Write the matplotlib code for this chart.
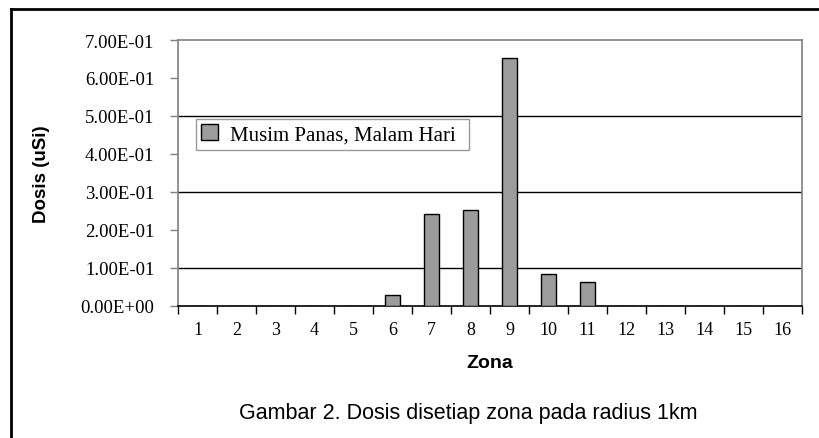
import matplotlib
matplotlib.use("Agg")
import matplotlib.pyplot as plt
import numpy as np

zones = ["1", "2", "3", "4", "5", "6", "7", "8", "9", "10", "11", "12", "13", "14", "15", "16"]
dosis = [0, 0, 0, 0, 0, 0.029, 0.242, 0.253, 0.652, 0.083, 0.062, 0, 0, 0, 0, 0]
yticks = [0.0, 0.1, 0.2, 0.3, 0.4, 0.5, 0.6, 0.7]
ytick_labels = ["0.00E+00", "1.00E-01", "2.00E-01", "3.00E-01", "4.00E-01", "5.00E-01", "6.00E-01", "7.00E-01"]
grid_levels = [0.1, 0.3, 0.5]
series_name = "Musim Panas, Malam Hari"

W, H = 819, 439
fig = plt.figure(figsize=(W / 100, H / 100), dpi=100)

# outer frame (top and left visible)
fig.add_artist(plt.Line2D([11 / W, 1.0], [1 - 10 / H, 1 - 10 / H], color="black", lw=2, transform=fig.transFigure))
fig.add_artist(plt.Line2D([11 / W, 11 / W], [0, 1 - 10 / H], color="black", lw=2, transform=fig.transFigure))

ax = fig.add_axes([178 / W, 1 - 307 / H, (802 - 178) / W, (307 - 41) / H])
x = np.arange(1, len(zones) + 1)
ax.bar(x, dosis, width=0.39, color="#9c9c9c", edgecolor="black", linewidth=1.0, label=series_name, zorder=3)

for g in grid_levels:
    ax.axhline(g, color="black", lw=1.0, zorder=1)

ax.set_xlim(0.5, len(zones) + 0.5)
ax.set_ylim(0, 0.7)
ax.set_yticks(yticks)
ax.set_yticklabels(ytick_labels, fontfamily="Liberation Serif", fontsize=13.5)
ax.set_xticks(x)
ax.set_xticklabels(zones, fontfamily="Liberation Serif", fontsize=13)
ax.tick_params(axis="x", length=0, pad=11)
ax.set_xticks(np.arange(0.5, len(zones) + 1.0, 1.0), minor=True)
ax.tick_params(axis="x", which="minor", length=6, width=1, color="black", direction="out")
ax.tick_params(axis="y", length=6, width=1, color="#808080", direction="out", pad=11)

for s in ["top", "right", "left"]:
    ax.spines[s].set_color("#808080")
    ax.spines[s].set_linewidth(1.2)
ax.spines["bottom"].set_color("black")
ax.spines["bottom"].set_linewidth(1.2)

ax.set_ylabel("Dosis (uSi)", fontfamily="Liberation Sans", fontweight="bold", fontsize=13.5)
ax.yaxis.set_label_coords(-0.205, 0.5)

leg = ax.legend(loc="upper left", bbox_to_anchor=(0.029, 0.703, 0.438, 0.0), mode="expand",
                frameon=True, fancybox=False, handlelength=0.8, handleheight=0.8,
                prop={"family": "Liberation Serif", "size": 15}, borderpad=0.25, handletextpad=0.6,
                borderaxespad=0)
leg.get_frame().set_edgecolor("#808080")
leg.get_frame().set_linewidth(1.0)

fig.text(490 / W, 1 - 364 / H, "Zona", ha="center", va="center", fontfamily="Liberation Sans",
         fontweight="bold", fontsize=14)
fig.text(468 / W, 1 - 414 / H, "Gambar 2. Dosis disetiap zona pada radius 1km", ha="center", va="center",
         fontfamily="Liberation Sans", fontsize=15.5)

fig.savefig("out.png", dpi=100)
